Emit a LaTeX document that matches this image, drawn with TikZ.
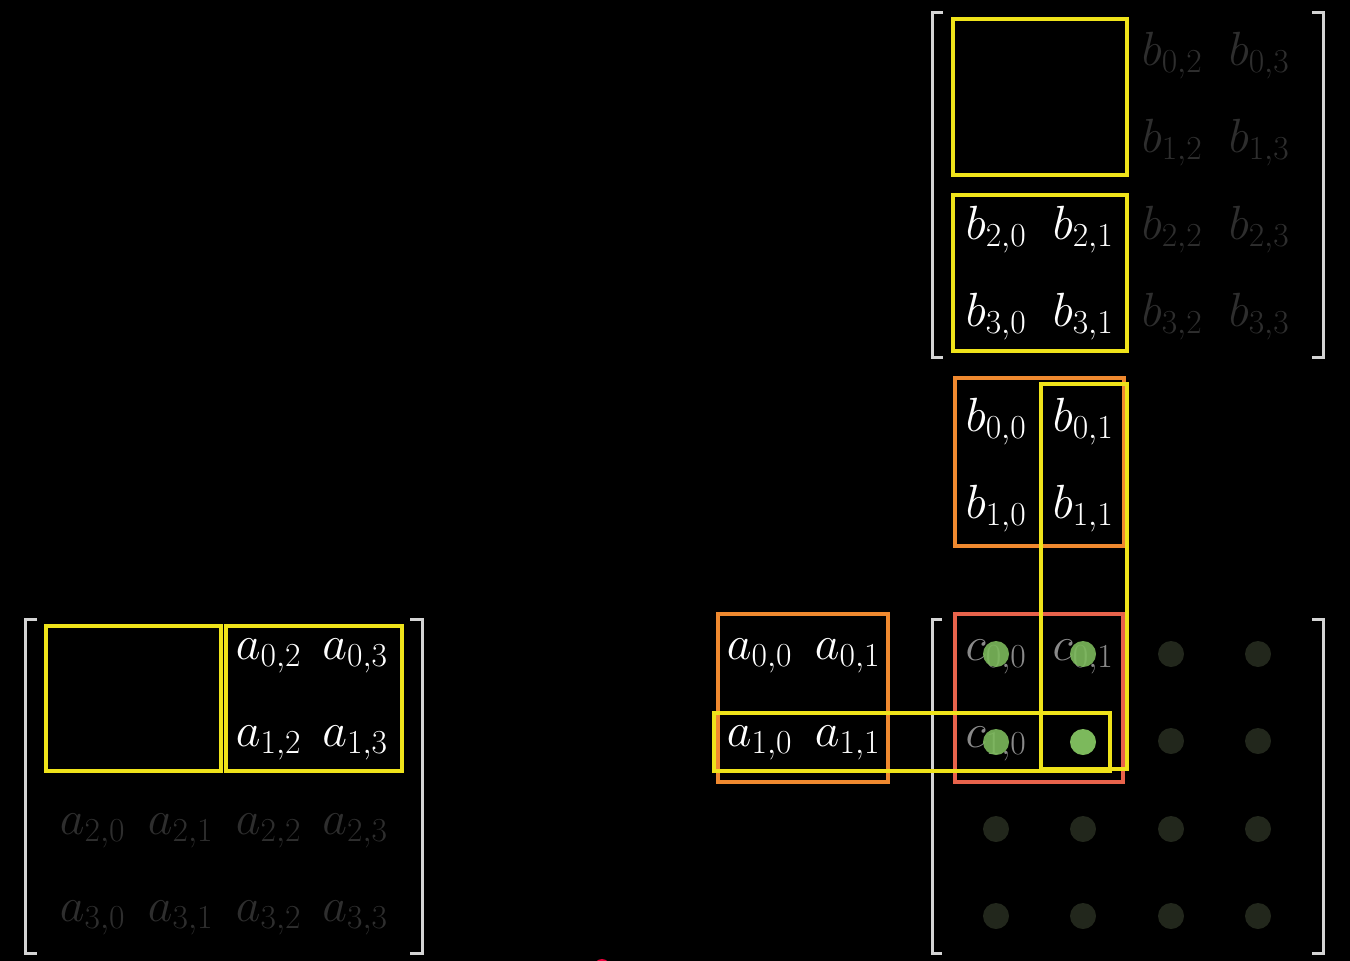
\RequirePackage{fix-cm}
\documentclass[tikz,border=0pt]{standalone}
\usepackage{tikz}
\definecolor{yel}{HTML}{EFE31A}
\definecolor{org}{HTML}{F0892F}
\definecolor{redb}{HTML}{E8634B}
\definecolor{brk}{HTML}{D4D4D4}
\definecolor{dimt}{HTML}{2E2E2E}
\definecolor{ctext}{HTML}{8A8A8A}
\definecolor{grn}{HTML}{7CB95C}
\definecolor{dgrn}{HTML}{22271C}
\definecolor{cursor}{HTML}{E8003A}
\begin{document}
\begin{tikzpicture}[x=1pt,y=-1pt,
 ent/.style={font=\fontsize{48}{52}\selectfont, text=white, inner sep=0pt, anchor=base},
 diment/.style={ent, text=dimt},
 cent/.style={ent, text=ctext},
 brkt/.style={draw=brk, line width=3pt},
 ybox/.style={draw=yel, line width=4.5pt},
 obox/.style={draw=org, line width=4pt},
 rbox/.style={draw=redb, line width=4pt},
 dotb/.style={fill=grn, circle, inner sep=0pt, minimum size=26pt},
 dotd/.style={fill=dgrn, circle, inner sep=0pt, minimum size=26pt}]
\fill[black] (0,0) rectangle (1350,961);
\useasboundingbox (0,0) rectangle (1350,961);

% ---- matrix A (left)
\foreach \c/\x in {2/268.5,3/355}{
  \foreach \r/\y in {0/659,1/746}{
    \node[ent] (a\r\c) at (\x,\y) {$a_{\r,\c}$};
  }}
\foreach \c/\x in {0/92.5,1/180.5,2/268.5,3/355}{
  \foreach \r/\y in {2/834,3/921}{
    \node[diment] (a\r\c) at (\x,\y) {$a_{\r,\c}$};
  }}
\draw[brkt] (37,619) -- (25,619) -- (25,953) -- (37,953);
\draw[brkt] (410,619) -- (422,619) -- (422,953) -- (410,953);

% ---- matrix B (top right)
\foreach \c/\x in {0/996,1/1083}{
  \foreach \r/\y in {2/239,3/326}{
    \node[ent] (b\r\c) at (\x,\y) {$b_{\r,\c}$};
  }}
\foreach \c/\x in {2/1172,3/1259}{
  \foreach \r/\y in {0/65,1/152,2/239,3/326}{
    \node[diment] (b\r\c) at (\x,\y) {$b_{\r,\c}$};
  }}
\draw[brkt] (943,12) -- (932,12) -- (932,357) -- (943,357);
\draw[brkt] (1312,12) -- (1323,12) -- (1323,357) -- (1312,357);

% ---- moved blocks
\node[ent] (ma00) at (759.5,659) {$a_{0,0}$};
\node[ent] (ma01) at (847.5,659) {$a_{0,1}$};
\node[ent] (ma10) at (759.5,746) {$a_{1,0}$};
\node[ent] (ma11) at (847.5,746) {$a_{1,1}$};
\node[ent] (mb00) at (996,431) {$b_{0,0}$};
\node[ent] (mb01) at (1083,431) {$b_{0,1}$};
\node[ent] (mb10) at (996,518) {$b_{1,0}$};
\node[ent] (mb11) at (1083,518) {$b_{1,1}$};

% ---- matrix C
\node[cent] (c00) at (996,660) {$c_{0,0}$};
\node[cent] (c01) at (1083,660) {$c_{0,1}$};
\node[cent] (c10) at (996,747) {$c_{1,0}$};
\draw[brkt] (942,619) -- (932,619) -- (932,953) -- (942,953);
\draw[brkt] (1312,619) -- (1323,619) -- (1323,953) -- (1312,953);

\node[dotb, opacity=0.9] (d00) at (996,654) {};
\node[dotb, opacity=0.9] (d01) at (1083,654) {};
\node[dotb, opacity=0.9] (d10) at (996,742) {};
\node[dotb] (d11) at (1083,742) {};
\foreach \c/\x in {2/1171,3/1258}{
  \foreach \r/\y in {0/654,1/741}{
    \node[dotd] (d\r\c) at (\x,\y) {};
  }}
\foreach \c/\x in {0/996,1/1083,2/1171,3/1258}{
  \foreach \r/\y in {2/829,3/916}{
    \node[dotd] (d\r\c) at (\x,\y) {};
  }}

% ---- boxes
\draw[obox] (718,614) rectangle (888,782);
\draw[obox] (955,378) rectangle (1124,546);
\draw[rbox] (955,614) rectangle (1123,782);

\draw[ybox] (46,626) rectangle (221,771);
\draw[ybox] (226,626) rectangle (402,771);
\draw[ybox] (953,19) rectangle (1127,175);
\draw[ybox] (953,195) rectangle (1127,351);
\draw[ybox] (1041,384) rectangle (1127,769);
\draw[ybox] (714,713) rectangle (1110,771);

% ---- cursor
\fill[cursor] (602,967) circle (8);
\end{tikzpicture}
\end{document}
